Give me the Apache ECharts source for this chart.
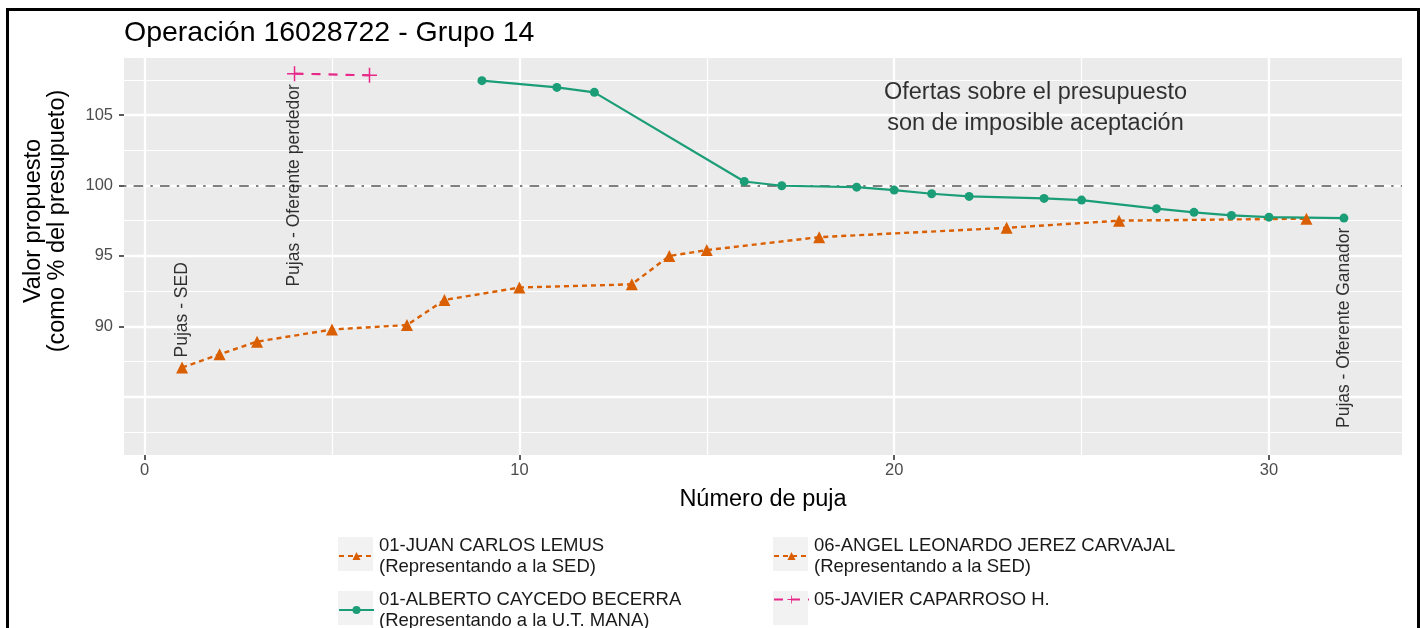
<!DOCTYPE html>
<html>
<head>
<meta charset="utf-8">
<script src="https://cdn.jsdelivr.net/npm/echarts@6/dist/echarts.min.js"></script>
<style>
  html, body { margin: 0; padding: 0; background: #fff; }
  #chart { width: 1420px; height: 628px; position: absolute; left: 0; top: 0; }
  #frame { position: absolute; left: 6px; top: 8px; width: 1408px; height: 700px;
           border: 3px solid #000; pointer-events: none; box-sizing: content-box; }
</style>
</head>
<body>
<div id="chart"></div>
<div id="frame"></div>
<script>
// ---- Data ----
const sedX = [1, 2, 3, 5, 7, 8, 10, 13, 14, 15, 18, 23, 26, 31];
const sedY = [87.07, 88.01, 88.91, 89.77, 90.09, 91.87, 92.75, 92.98, 94.99, 95.41, 96.33, 96.99, 97.50, 97.64];
const utX = [9, 11, 12, 16, 17, 19, 20, 21, 22, 24, 25, 27, 28, 29, 30, 32];
const utY = [107.44, 106.96, 106.61, 100.28, 99.98, 99.88, 99.67, 99.41, 99.22, 99.08, 98.96, 98.35, 98.09, 97.87, 97.75, 97.68];
const capX = [4, 6];
const capY = [107.94, 107.82];
const presupuesto = 100;
const xTicks = [0, 10, 20, 30];
const yTicks = [90, 95, 100, 105];
const seriesNames = ['01-JUAN CARLOS LEMUS', '06-ANGEL LEONARDO JEREZ CARVAJAL', '01-ALBERTO CAYCEDO BECERRA', '05-JAVIER CAPARROSO H.'];
const seriesSub = ['(Representando a la SED)', '(Representando a la SED)', '(Representando a la U.T. MANA)', ''];

// ---- Styling / layout ----
const FONT = '"Liberation Sans", Arial, Helvetica, sans-serif';
const ORANGE = '#D95F02', GREEN = '#1B9E77', PINK = '#E7298A';
const PLUS = 'path://M9,0H11V9H20V11H11V20H9V11H0V9H9Z';

const zip = (xs, ys) => xs.map((x, i) => [x, ys[i]]);

const majorY = [85, 90, 95, 100, 105], minorY = [82.5, 87.5, 92.5, 97.5, 102.5, 107.5];
const majorX = [0, 10, 20, 30], minorX = [5, 15, 25];
const gridData = []
  .concat(majorY.map(v => ({ yAxis: v, lineStyle: { width: 2.3 } })))
  .concat(minorY.map(v => ({ yAxis: v, lineStyle: { width: 1.2 } })))
  .concat(majorX.map(v => ({ xAxis: v, lineStyle: { width: 2.3 } })))
  .concat(minorX.map(v => ({ xAxis: v, lineStyle: { width: 1.2 } })));

const fullName = {};
seriesNames.forEach((n, i) => { fullName[n] = seriesSub[i] ? n + '\n' + seriesSub[i] : n; });

function legendAt(name, left, top) {
  return {
    data: [name], left: left, top: top, padding: 0, orient: 'horizontal', z: 10,
    itemWidth: 35, itemHeight: 10, selectedMode: false,
    formatter: n => fullName[n],
    textStyle: { fontFamily: FONT, fontSize: 18.5, lineHeight: 21, color: '#1A1A1A' }
  };
}

const annotations = [
  { value: [1, 91.17], text: 'Pujas - SED', rotate: 90, size: 17.5 },
  { value: [4, 100.0], text: 'Pujas - Oferente perdedor', rotate: 90, size: 17.5 },
  { value: [32, 89.89], text: 'Pujas - Oferente Ganador', rotate: 90, size: 17.5 },
  { value: [23.77, 105.49], text: 'Ofertas sobre el presupuesto\nson de imposible aceptación', rotate: 0, size: 23.5 }
];

const tickStyle = { show: true, length: 5, lineStyle: { color: '#333333', width: 1.6 } };

const chart = echarts.init(document.getElementById('chart'), null, { renderer: 'canvas' });
chart.setOption({
  animation: false,
  backgroundColor: '#fff',
  textStyle: { fontFamily: FONT },
  title: {
    text: 'Operación 16028722 - Grupo 14', left: 124, top: 19, padding: 0,
    textStyle: { fontFamily: FONT, fontSize: 28.5, fontWeight: 'normal', color: '#000' }
  },
  grid: { left: 124, top: 58, width: 1278, height: 397, show: true, backgroundColor: '#EBEBEB', borderWidth: 0 },
  xAxis: {
    type: 'value', min: -0.55, max: 33.55,
    name: 'Número de puja', nameLocation: 'middle', nameGap: 33,
    nameTextStyle: { fontFamily: FONT, fontSize: 23.5, color: '#000' },
    axisLine: { show: true, onZero: false, lineStyle: { color: 'rgba(0,0,0,0)', width: 0 } },
    axisTick: Object.assign({ customValues: xTicks }, tickStyle),
    axisLabel: { customValues: xTicks, color: '#4D4D4D', fontSize: 16.5, margin: 7, fontFamily: FONT },
    splitLine: { show: false }
  },
  yAxis: {
    type: 'value', min: 80.86, max: 109.05,
    axisLine: { show: true, onZero: false, lineStyle: { color: 'rgba(0,0,0,0)', width: 0 } },
    axisTick: Object.assign({ customValues: yTicks }, tickStyle),
    axisLabel: { customValues: yTicks, color: '#4D4D4D', fontSize: 16.5, margin: 11, fontFamily: FONT },
    splitLine: { show: false }
  },
  legend: [
    legendAt(seriesNames[0], 338, 535),
    legendAt(seriesNames[1], 773, 535),
    legendAt(seriesNames[2], 338, 589),
    legendAt(seriesNames[3], 773, 589)
  ],
  graphic: [
    { type: 'rect', z: 0, shape: { x: 338, y: 537, width: 35, height: 34 }, style: { fill: '#F2F2F2' } },
    { type: 'rect', z: 0, shape: { x: 773, y: 537, width: 35, height: 34 }, style: { fill: '#F2F2F2' } },
    { type: 'rect', z: 0, shape: { x: 338, y: 591, width: 35, height: 34 }, style: { fill: '#F2F2F2' } },
    { type: 'rect', z: 0, shape: { x: 773, y: 591, width: 35, height: 34 }, style: { fill: '#F2F2F2' } },
    { type: 'text', x: 46, y: 221, rotation: Math.PI / 2, z: 10,
      style: { text: 'Valor propuesto\n(como % del presupueto)', fontFamily: FONT, fontSize: 23.5,
               lineHeight: 24, align: 'center', verticalAlign: 'middle', fill: '#000' } }
  ],
  series: [
    { name: 'gridlines', type: 'line', data: [], z: 1, silent: true,
      markLine: { z: 1, silent: true, symbol: ['none', 'none'], label: { show: false }, animation: false,
        lineStyle: { color: '#FFFFFF', type: 'solid' }, data: gridData } },
    { name: 'presupuesto', type: 'line', data: [], z: 2, silent: true,
      markLine: { z: 2, silent: true, symbol: ['none', 'none'], label: { show: false }, animation: false,
        lineStyle: { color: '#7F7F7F', width: 2.2, type: [2.4, 7.2, 9.6, 7.2] },
        data: [{ yAxis: presupuesto }] } },
    { name: seriesNames[0], type: 'line', data: zip(sedX, sedY), z: 4,
      color: ORANGE, symbol: 'triangle', symbolSize: 12, showSymbol: true,
      lineStyle: { color: ORANGE, width: 2.4, type: [5, 4] }, itemStyle: { color: ORANGE } },
    { name: seriesNames[1], type: 'line', data: [], z: 4,
      color: ORANGE, symbol: 'triangle', symbolSize: 12,
      lineStyle: { color: ORANGE, width: 2.4, type: [5, 4] }, itemStyle: { color: ORANGE } },
    { name: seriesNames[2], type: 'line', data: zip(utX, utY), z: 4,
      color: GREEN, symbol: 'circle', symbolSize: 9, showSymbol: true,
      lineStyle: { color: GREEN, width: 2.2 }, itemStyle: { color: GREEN } },
    { name: seriesNames[3], type: 'line', data: zip(capX, capY), z: 4,
      color: PINK, symbol: PLUS, symbolSize: 15, showSymbol: true,
      lineStyle: { color: PINK, width: 2.2, type: [9, 8] }, itemStyle: { color: PINK } },
    { name: 'annotations', type: 'scatter', z: 5, silent: true, symbolSize: 1,
      itemStyle: { color: 'rgba(0,0,0,0)' },
      data: annotations.map(a => ({
        value: a.value,
        label: { show: true, position: 'inside', rotate: a.rotate, formatter: a.text,
                 fontSize: a.size, lineHeight: Math.round(a.size * 1.32), color: '#000',
                 fontFamily: FONT, align: 'center', verticalAlign: 'middle' }
      })) }
  ]
});
</script>
</body>
</html>
